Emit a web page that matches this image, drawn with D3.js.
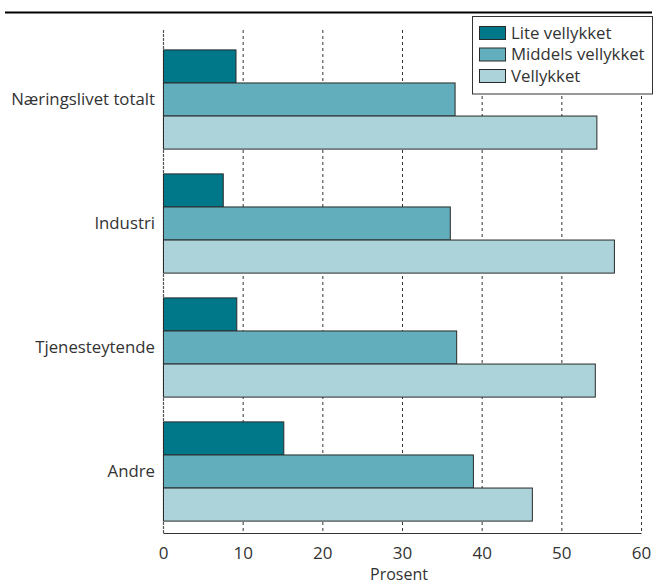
<!DOCTYPE html>
<html>
<head>
<meta charset="utf-8">
<script src="https://cdn.jsdelivr.net/npm/d3@7"></script>
<style>
  body { margin: 0; background: #fff; }
  svg text { font-family: "Open Sans", sans-serif; fill: #333; }
</style>
</head>
<body>
<svg id="chart" width="656" height="585"></svg>
<script>
// Vellykkethet per næring (prosent)
const categories = ['Næringslivet totalt', 'Industri', 'Tjenesteytende', 'Andre'];
const series = ['Lite vellykket', 'Middels vellykket', 'Vellykket'];
const liteVals = [9.1, 7.5, 9.2, 15.1];
const middelsVals = [36.6, 36.0, 36.8, 38.9];
const vellykketVals = [54.4, 56.6, 54.2, 46.3];
const xTicks = [0, 10, 20, 30, 40, 50, 60];

const colors = ['#00788a', '#62aebc', '#acd2da'];
const values = [liteVals, middelsVals, vellykketVals];

const svg = d3.select('#chart');
const x0 = 163, x1 = 641, yTop = 30, yBot = 533;

// linje over figuren
svg.append('line').attr('x1', 5).attr('x2', 652).attr('y1', 12.5).attr('y2', 12.5)
  .attr('stroke', '#000').attr('stroke-width', 2.2);

const x = d3.scaleLinear().domain([0, 60]).range([x0, x1]);
const y = d3.scaleBand().domain(categories).range([37, yBot]).paddingInner(0.2).paddingOuter(0.1);
const ySub = d3.scaleBand().domain(series).range([0, y.bandwidth()]);

// rutenett
svg.append('g').selectAll('line').data(xTicks.slice(1)).join('line')
  .attr('x1', d => x(d) + 0.5).attr('x2', d => x(d) + 0.5)
  .attr('y1', yTop).attr('y2', yBot)
  .attr('stroke', '#333').attr('stroke-width', 1).attr('stroke-dasharray', '3,3');

// y-akse
svg.append('line').attr('x1', x0 + 0.5).attr('x2', x0 + 0.5).attr('y1', yTop).attr('y2', yBot)
  .attr('stroke', '#555').attr('stroke-width', 1.2).attr('stroke-dasharray', '3,1');

// søyler
const g = svg.append('g');
series.forEach((s, si) => {
  g.selectAll('rect.s' + si).data(categories).join('rect')
    .attr('class', 's' + si)
    .attr('x', x(0) + 0.5)
    .attr('y', c => y(c) + ySub(s) + 0.5)
    .attr('width', (c, i) => x(values[si][i]) - x(0))
    .attr('height', ySub.bandwidth())
    .attr('fill', colors[si])
    .attr('stroke', '#2a2a2a').attr('stroke-width', 1);
});

// x-akse
const xAxis = svg.append('g').attr('transform', `translate(0,${yBot})`)
  .call(d3.axisBottom(x).tickValues(xTicks).tickSize(0).tickPadding(14));
xAxis.select('.domain').attr('stroke', '#333').attr('stroke-width', 1.2);
xAxis.selectAll('text').style('font-size', '17px').attr('fill', '#333');

svg.append('text').attr('x', (x0 + x1) / 2 - 3).attr('y', 580)
  .attr('text-anchor', 'middle').style('font-size', '16px').text('Prosent');

// kategorietiketter
svg.append('g').selectAll('text').data(categories).join('text')
  .attr('x', 155).attr('y', c => y(c) + y.bandwidth() / 2)
  .attr('dy', '0.35em').attr('text-anchor', 'end')
  .style('font-size', '16.8px').text(c => c);

// forklaring
const lg = svg.append('g');
lg.append('rect').attr('x', 472.5).attr('y', 16.5).attr('width', 180).attr('height', 77.5)
  .attr('fill', '#fff').attr('stroke', '#333').attr('stroke-width', 1);
series.forEach((s, i) => {
  const yy = 26 + i * 21.5;
  lg.append('rect').attr('x', 479.5).attr('y', yy + 0.5).attr('width', 26).attr('height', 13)
    .attr('fill', colors[i]).attr('stroke', '#2a2a2a').attr('stroke-width', 1);
  lg.append('text').attr('x', 511).attr('y', yy + 7).attr('dy', '0.35em')
    .style('font-size', '16.8px').text(s);
});
</script>
</body>
</html>
